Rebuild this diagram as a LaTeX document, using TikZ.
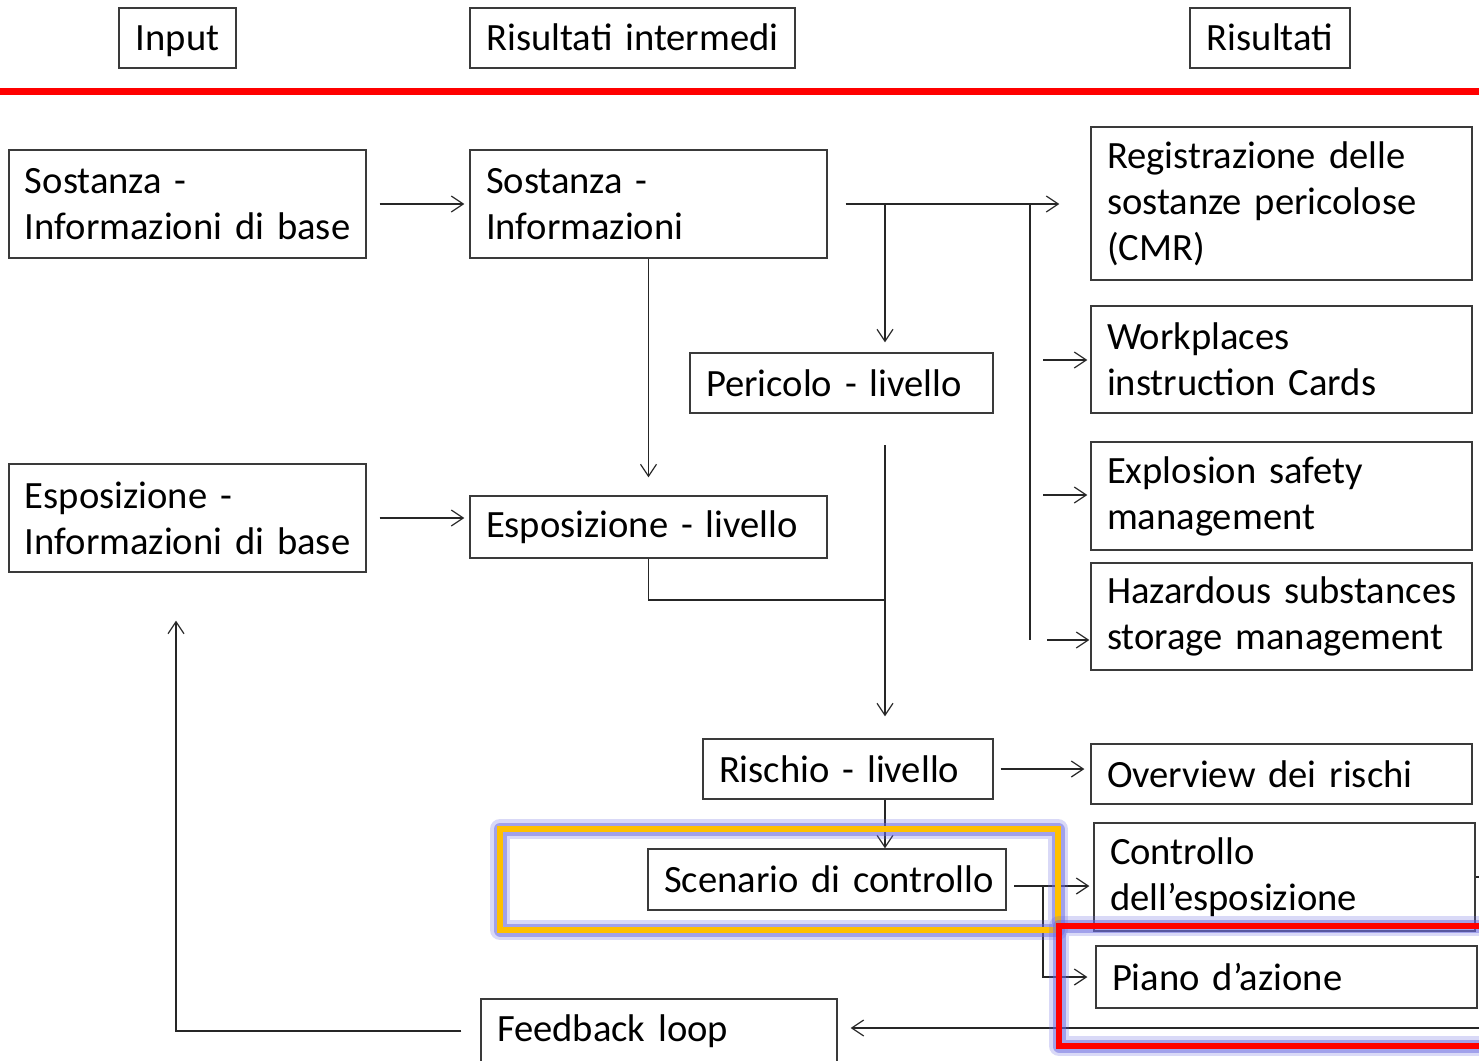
\documentclass[tikz,border=0pt]{standalone}
\usepackage{fontspec}
\setmainfont{Carlito}[WordSpace=0.85]
\usetikzlibrary{arrows.meta,calc}
\definecolor{boxline}{HTML}{3A3A3A}
\definecolor{hlorange}{HTML}{FFC000}
\definecolor{glowblue}{HTML}{6A6AE0}
\tikzset{
  box/.style={draw=boxline, line width=0.65pt, rectangle, inner xsep=8pt, inner ysep=0pt,
              align=left, font=\fontsize{19.3}{23}\selectfont, text=black},
  hbox/.style={box, align=center, text height=15pt, text depth=3pt},
  conn/.style={draw=black!85, line width=0.6pt},
  arr/.style={conn, -{Straight Barb[length=6pt,width=8pt]}},
  glowA/.style={draw=glowblue, line width=10pt, opacity=0.25, line join=round},
  glowB/.style={draw=glowblue, line width=6.5pt, opacity=0.5, line join=round},
}
\begin{document}
\begin{tikzpicture}[x=0.5pt,y=-0.5pt]
\useasboundingbox (0,0) rectangle (1479,1061);
\fill[white] (0,0) rectangle (1479,1061);

% header
\node[hbox, text width=42.5pt, minimum height=30pt] (inp) at (177.5,38) {Input};
\node[hbox, text width=146.5pt, minimum height=30pt] (rint) at (632.5,38) {\mbox{Risultati intermedi}};
\node[hbox, text width=64pt, minimum height=30pt] (ris) at (1270,38) {Risultati};
\draw[draw=red, line width=3.5pt] (0,91) -- (1479,91);

% left column
\node[box, text width=162.5pt, minimum height=54pt] (sb) at (187.5,204) {Sostanza -\\\mbox{Informazioni di base}};
\node[box, text width=162.5pt, minimum height=54pt] (eb) at (187.5,518) {Esposizione -\\\mbox{Informazioni di base}};

% middle column
\node[box, text width=162.5pt, minimum height=54pt] (si) at (648.5,204) {Sostanza -\\Informazioni};
\node[box, text width=135.5pt, minimum height=30pt] (per) at (841.5,383) {\mbox{Pericolo - livello}};
\node[box, text width=162.5pt, minimum height=31pt] (el) at (648.5,527) {\mbox{Esposizione - livello}};
\node[box, text width=129pt, minimum height=30pt] (rl) at (848,769) {\mbox{Rischio - livello}};
\node[box, text width=163pt, minimum height=30.5pt] (sc) at (827,879.5) {\mbox{Scenario di controllo}};
\node[box, text width=162pt, minimum height=32pt] (fb) at (659,1031) {\mbox{Feedback loop}};

% right column
\node[box, text width=174.5pt, minimum height=76.5pt] (reg) at (1281.5,203.5) {\mbox{Registrazione delle}\\\mbox{sostanze pericolose}\\(CMR)};
\node[box, text width=174.5pt, minimum height=53.5pt] (wp) at (1281.5,359.5) {Workplaces\\\mbox{instruction Cards}};
\node[box, text width=174.5pt, minimum height=54pt] (ex) at (1281.5,496) {\mbox{Explosion safety}\\management};
\node[box, text width=174.5pt, minimum height=53.5pt] (hz) at (1281.5,616.5) {\mbox{Hazardous substances}\\\mbox{storage management}};
\node[box, text width=174.5pt, minimum height=30pt] (ov) at (1281.5,774) {\mbox{Overview dei rischi}};
\node[box, text width=174.5pt, minimum height=54pt] (ce) at (1284.5,877) {Controllo\\dell’esposizione};
\node[box, text width=174.5pt, minimum height=31pt] (pa) at (1286.5,977) {\mbox{Piano d’azione}};

% junction coordinates
\coordinate (j1) at (885,204);
\coordinate (b1) at (1030,204);
\coordinate (b2) at (1030,640);
\coordinate (w1) at (1043,360);
\coordinate (w2) at (1043,495);
\coordinate (w3) at (1047,640);
\coordinate (p1) at (885,445);
\coordinate (j2) at (885,600);
\coordinate (s1) at (1014,886);
\coordinate (s2) at (1043,886);
\coordinate (r1) at (1479,1028);
\coordinate (c1) at (176,1031);
\coordinate (ce1) at (1479,877);

% connectors
\draw[arr, shorten <=6.5pt, shorten >=2.5pt] (sb.east) -- (si.west);
\draw[arr, shorten <=6.5pt, shorten >=2.5pt] (eb.east) -- (eb.east -| el.west);
\draw[arr, shorten >=9pt] (si.south) -- (el.north);
\draw[arr, shorten <=9pt, shorten >=15.5pt] (si.east) -- (si.east -| reg.west);
\draw[arr, shorten >=5pt] (j1) -- (j1 |- per.north);
\draw[conn] (b1) -- (b2);
\draw[arr, shorten >=1.5pt] (w1) -- (w1 -| wp.west);
\draw[arr, shorten >=1.5pt] (w2) -- (w2 -| ex.west);
\draw[arr, shorten >=0.5pt] (w3) -- (w3 -| hz.west);
\draw[arr, shorten >=11pt] (p1) -- (p1 |- rl.north);
\draw[conn] (el.south) |- (j2);
\draw[arr, shorten <=3.5pt, shorten >=3pt] (rl.east) -- (rl.east -| ov.west);
\draw[arr] (rl.south -| j1) -- (sc.north -| j1);
\draw[arr, shorten >=2pt] (s1) -- (s1 -| ce.west);
\draw[arr, shorten >=4pt] (s2) |- (pa.west);
\draw[arr, shorten >=6.5pt] (r1) -- (r1 -| fb.east);
\draw[arr, shorten <=9.5pt, shorten >=24pt] (fb.west) -- (c1) -- (c1 |- eb.south);
\draw[conn] (ce.east) -- (ce1);

% highlight frames
\draw[glowA] (500,829) rectangle (1058,930);
\draw[glowB] (500,829) rectangle (1058,930);
\draw[draw=hlorange, line width=3pt] (500,829) rectangle (1058,930);
\draw[glowA] (1059,926) rectangle (1495,1046);
\draw[glowB] (1059,926) rectangle (1495,1046);
\draw[draw=red, line width=3pt] (1059,926) rectangle (1495,1046);
\end{tikzpicture}
\end{document}
